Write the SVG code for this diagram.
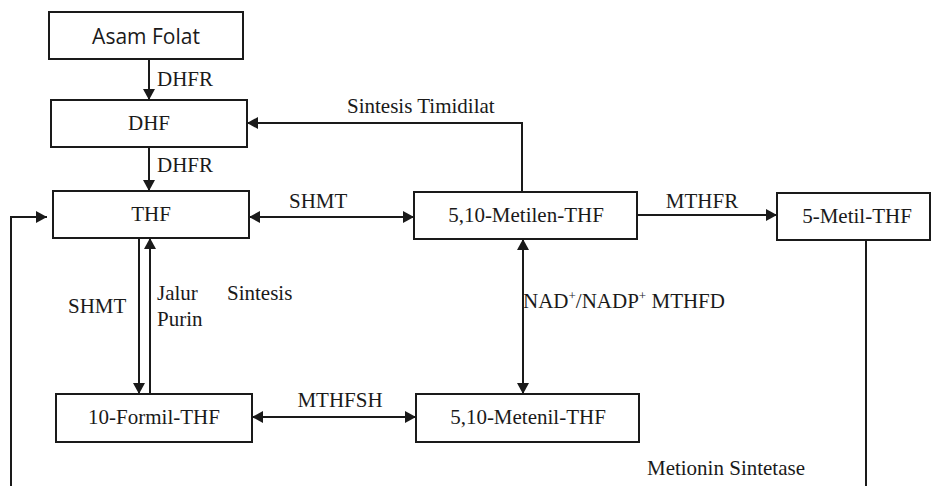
<svg xmlns="http://www.w3.org/2000/svg" width="932" height="486" viewBox="0 0 932 486">
<style>
.box{fill:#fff;stroke:#1a1a1a;stroke-width:2}
.t{font-family:"Liberation Serif","Times New Roman",serif;font-size:21px;fill:#1a1a1a}
.s{font-family:"Open Sans","Noto Sans",sans-serif;font-size:21px;fill:#1a1a1a}
.c{text-anchor:middle}
.ln{fill:none;stroke:#1a1a1a;stroke-width:2}
</style>
<defs>
<marker id="ah" markerUnits="userSpaceOnUse" markerWidth="11" markerHeight="12" refX="11" refY="6" orient="auto-start-reverse" viewBox="0 0 11 12">
<path d="M0,0 L11,6 L0,12 z" fill="#1a1a1a"/>
</marker>
</defs>
<rect width="932" height="486" fill="#fff"/>
<g id="connectors">
<line class="ln" x1="149" y1="59" x2="149" y2="100" marker-end="url(#ah)"/>
<line class="ln" x1="149" y1="147" x2="149" y2="191" marker-end="url(#ah)"/>
<polyline class="ln" points="522,192 522,123 247,123" marker-end="url(#ah)"/>
<line class="ln" x1="249" y1="217" x2="414" y2="217" marker-start="url(#ah)" marker-end="url(#ah)"/>
<line class="ln" x1="637" y1="215" x2="777" y2="215" marker-end="url(#ah)"/>
<line class="ln" x1="139" y1="238" x2="139" y2="394" marker-end="url(#ah)"/>
<line class="ln" x1="150" y1="394" x2="150" y2="238" marker-end="url(#ah)"/>
<line class="ln" x1="523" y1="239" x2="523" y2="394" marker-start="url(#ah)" marker-end="url(#ah)"/>
<line class="ln" x1="252" y1="417" x2="416" y2="417" marker-start="url(#ah)" marker-end="url(#ah)"/>
<polyline class="ln" points="11,486 11,217 47,217" marker-end="url(#ah)"/>
<line class="ln" x1="866" y1="240" x2="866" y2="486"/>
<text class="t" x="157" y="86">DHFR</text>
<text class="t" x="157" y="172">DHFR</text>
<text class="t" x="347" y="113">Sintesis Timidilat</text>
<text class="t" x="289" y="208">SHMT</text>
<text class="t" x="702" y="208" text-anchor="middle">MTHFR</text>
<text class="t" x="68" y="313">SHMT</text>
<text class="t" x="157" y="300">Jalur</text>
<text class="t" x="157" y="326">Purin</text>
<text class="t" x="227" y="300">Sintesis</text>
<text class="t" x="523" y="308">NAD<tspan font-size="13" dy="-8">+</tspan><tspan dy="8">/NADP</tspan><tspan font-size="13" dy="-8">+</tspan><tspan dy="8"> MTHFD</tspan></text>
<text class="t" x="340" y="407" text-anchor="middle">MTHFSH</text>
<text class="t" x="726" y="475" text-anchor="middle">Metionin Sintetase</text>
</g>
<g id="asam-folat">
<rect class="box" x="49" y="12" width="194" height="47"/>
<text class="s c" x="146" y="44">Asam Folat</text>
</g>
<g id="dhf">
<rect class="box" x="51" y="100" width="196" height="47"/>
<text class="t c" x="149" y="130">DHF</text>
</g>
<g id="thf">
<rect class="box" x="53" y="191" width="196" height="47"/>
<text class="t c" x="151" y="221">THF</text>
</g>
<g id="metilen-thf">
<rect class="box" x="414" y="192" width="223" height="47"/>
<text class="t c" x="526" y="222">5,10-Metilen-THF</text>
</g>
<g id="metil-thf">
<rect class="box" x="777" y="193" width="153" height="47"/>
<text class="t c" x="857" y="223">5-Metil-THF</text>
</g>
<g id="formil-thf">
<rect class="box" x="56" y="394" width="196" height="48"/>
<text class="t c" x="154" y="424">10-Formil-THF</text>
</g>
<g id="metenil-thf">
<rect class="box" x="416" y="394" width="223" height="48"/>
<text class="t c" x="528" y="424">5,10-Metenil-THF</text>
</g>
</svg>
